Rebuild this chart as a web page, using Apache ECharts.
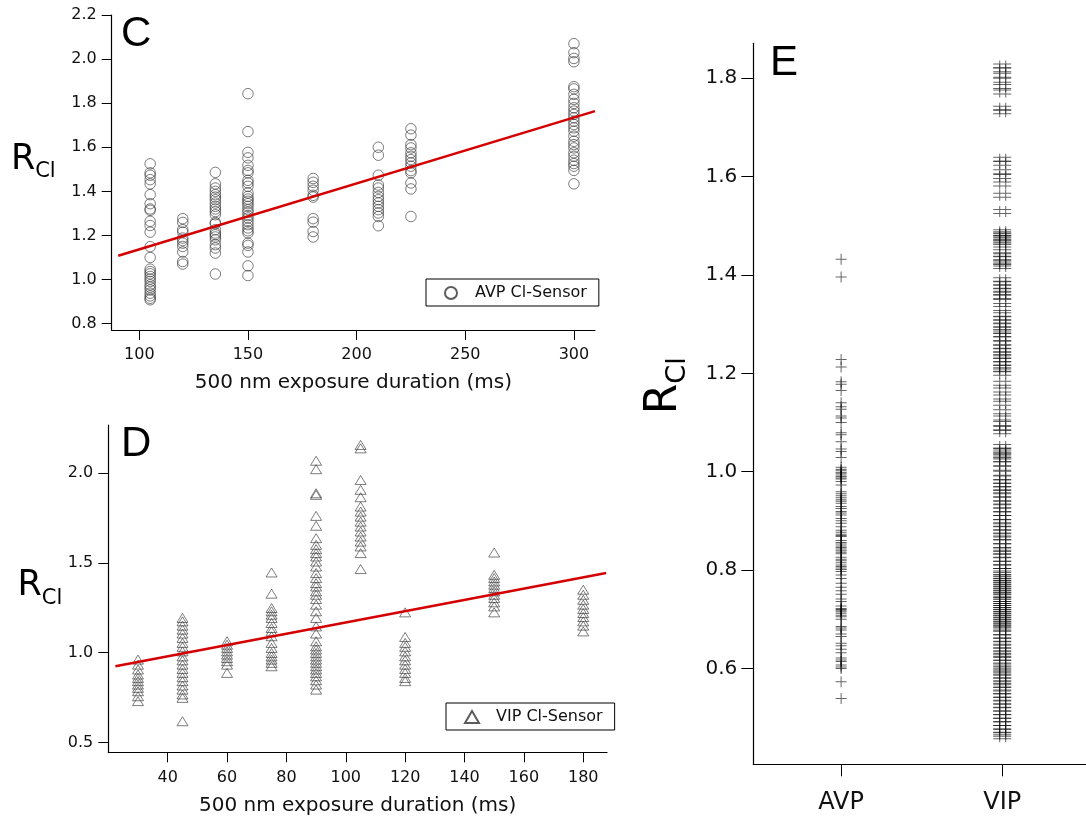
<!DOCTYPE html>
<html><head><meta charset="utf-8">
<script src="https://cdn.jsdelivr.net/npm/echarts@6/dist/echarts.min.js"></script>
<style>html,body{margin:0;padding:0;background:#fff}#c{width:1086px;height:825px}</style>
</head><body><div id="c"></div><script>
// ---------- Panel C data (AVP Cl-Sensor) ----------
const cDurations = [105, 120, 135, 150, 180, 210, 225, 300];
const cR105 = [1.525,1.484,1.473,1.453,1.434,1.385,1.344,1.32,1.314,1.264,1.245,1.215,1.149,1.10,1.047,1.036,1.026,1.014,1.002,0.991,0.976,0.965,0.953,0.938,0.926,0.915,0.908];
const cR120 = [1.276,1.259,1.226,1.215,1.188,1.177,1.165,1.15,1.125,1.082,1.07];
const cR135 = [1.486,1.434,1.415,1.40,1.385,1.374,1.362,1.347,1.332,1.32,1.308,1.294,1.259,1.253,1.226,1.211,1.203,1.193,1.18,1.158,1.143,1.12,1.025];
const cR150 = [1.843,1.671,1.577,1.552,1.518,1.495,1.484,1.45,1.438,1.423,1.393,1.377,1.365,1.355,1.344,1.332,1.317,1.305,1.29,1.279,1.264,1.249,1.234,1.221,1.211,1.165,1.155,1.125,1.062,1.018];
const cR180 = [1.458,1.441,1.423,1.405,1.382,1.374,1.276,1.26,1.218,1.193];
const cR210 = [1.60,1.564,1.473,1.429,1.415,1.395,1.377,1.362,1.347,1.332,1.317,1.302,1.286,1.244];
const cR225 = [1.684,1.655,1.612,1.597,1.575,1.559,1.544,1.529,1.514,1.494,1.484,1.438,1.411,1.286];
const cR300 = [2.07,2.029,2.003,1.988,1.875,1.865,1.84,1.817,1.799,1.779,1.764,1.749,1.734,1.718,1.703,1.688,1.673,1.65,1.627,1.612,1.597,1.575,1.559,1.541,1.526,1.514,1.495,1.434];
const cValues = [cR105, cR120, cR135, cR150, cR180, cR210, cR225, cR300];
const cFitRange = [90.3, 309.7];
const cFitIntercept = 0.838, cFitSlope = 0.00299;
const cXTicks = [100, 150, 200, 250, 300];
const cYTicks = [0.8, 1.0, 1.2, 1.4, 1.6, 1.8, 2.0, 2.2];

// ---------- Panel D data (VIP Cl-Sensor) ----------
const dDurations = [30, 45, 60, 75, 90, 105, 120, 150, 180];
const dR30 = [0.961,0.933,0.906,0.878,0.859,0.841,0.822,0.804,0.785,0.757,0.73];
const dR45 = [1.193,1.174,1.15,1.128,1.106,1.082,1.054,1.032,1.007,0.979,0.957,0.933,0.909,0.887,0.863,0.841,0.817,0.794,0.767,0.748,0.618];
const dR60 = [1.063,1.044,1.026,1.007,0.989,0.97,0.952,0.933,0.887];
const dR75 = [1.446,1.328,1.248,1.23,1.211,1.193,1.165,1.137,1.118,1.091,1.054,1.026,0.998,0.979,0.961,0.943,0.924];
const dR90 = [2.068,2.021,1.887,1.878,1.761,1.706,1.637,1.60,1.576,1.554,1.535,1.507,1.479,1.443,1.415,1.387,1.368,1.341,1.322,1.298,1.267,1.23,1.193,1.146,1.106,1.063,1.035,1.017,0.998,0.979,0.961,0.943,0.924,0.906,0.887,0.868,0.846,0.822,0.794];
const dR105 = [2.156,2.137,1.961,1.906,1.865,1.813,1.785,1.757,1.729,1.702,1.674,1.646,1.618,1.591,1.554,1.465];
const dR120 = [1.224,1.087,1.054,1.032,1.007,0.979,0.957,0.933,0.909,0.887,0.859,0.841];
const dR150 = [1.557,1.433,1.415,1.396,1.378,1.359,1.341,1.322,1.304,1.28,1.257,1.224];
const dR180 = [1.35,1.322,1.294,1.267,1.243,1.22,1.198,1.174,1.15,1.118];
const dValues = [dR30, dR45, dR60, dR75, dR90, dR105, dR120, dR150, dR180];
const dFitRange = [22.4, 187.7];
const dFitIntercept = 0.854, dFitSlope = 0.00314;
const dXTicks = [40, 60, 80, 100, 120, 140, 160, 180];
const dYTicks = [0.5, 1.0, 1.5, 2.0];

// ---------- Panel E data ----------
const eGroups = ['AVP', 'VIP'];
const eAVP = [1.432,1.396,1.228,1.213,1.183,1.178,1.165,1.14,1.132,1.127,1.113,1.109,1.100,1.079,1.075,1.061,1.046,1.041,1.029,1.009,1.005,1.003,0.999,0.997,0.993,0.990,0.987,0.985,0.980,0.973,0.959,0.955,0.951,0.947,0.943,0.940,0.936,0.929,0.925,0.919,0.916,0.912,0.905,0.900,0.895,0.888,0.881,0.877,0.873,0.870,0.868,0.860,0.856,0.853,0.849,0.846,0.843,0.839,0.836,0.833,0.826,0.822,0.819,0.815,0.810,0.807,0.804,0.801,0.797,0.790,0.783,0.773,0.765,0.758,0.751,0.741,0.736,0.727,0.722,0.720,0.718,0.715,0.712,0.708,0.705,0.700,0.685,0.682,0.678,0.670,0.665,0.651,0.646,0.639,0.632,0.621,0.617,0.614,0.607,0.603,0.600,0.573,0.539];
const eVIP = [1.825,1.817,1.806,1.796,1.783,1.772,1.739,1.732,1.635,1.627,1.61,1.60,1.585,1.562,1.529,1.488,1.484,1.481,1.476,1.471,1.466,1.461,1.447,1.441,1.434,1.427,1.422,1.417,1.39,1.383,1.376,1.369,1.363,1.356,1.346,1.332,1.319,1.312,1.305,1.298,1.29,1.285,1.278,1.271,1.261,1.254,1.247,1.24,1.234,1.227,1.22,1.213,1.207,1.20,1.18,1.166,1.152,1.139,1.122,1.109,1.098,1.088,1.081,1.051,1.044,1.04,1.034,1.03,1.024,1.016,1.007,0.997,0.987,0.98,0.973,0.966,0.959,0.953,0.944,0.937,0.93,0.922,0.915,0.907,0.898,0.892,0.885,0.878,0.871,0.865,0.858,0.849,0.842,0.836,0.829,0.822,0.814,0.807,0.799,0.794,0.787,0.783,0.779,0.775,0.771,0.767,0.763,0.759,0.755,0.751,0.747,0.740,0.736,0.732,0.728,0.724,0.720,0.716,0.712,0.708,0.704,0.700,0.696,0.692,0.688,0.684,0.680,0.672,0.665,0.658,0.651,0.645,0.638,0.632,0.626,0.620,0.613,0.607,0.601,0.595,0.590,0.584,0.577,0.571,0.565,0.558,0.552,0.545,0.538,0.531,0.524,0.517,0.510,0.502,0.495,0.488,0.480,0.473,0.466,0.461];
const eYTicks = [0.6, 0.8, 1.0, 1.2, 1.4, 1.6, 1.8];

// ---------- build ----------
const pairs = (xs, vals) => xs.flatMap((x, i) => vals[i].map(v => [x, v]));
const fitLine = (r, a, b) => r.map(x => [x, a + b * x]);
const FONT = 'Liberation Sans, Helvetica, Arial, sans-serif';
const LABEL_FONT = 'DejaVu Sans, Verdana, sans-serif';
const axisLine = {lineStyle: {color: '#000', width: 1.2}};
const fmt1 = v => v.toFixed(1);

function xAx(grid, min, max, ticks, margin, nameGap) {
  return {
    type: 'value', gridIndex: grid, min, max,
    axisLine, splitLine: {show: false},
    axisTick: {show: true, length: 10, customValues: ticks, lineStyle: {color: '#000', width: 1}},
    axisLabel: {customValues: ticks, margin, fontSize: 16, color: '#111', fontFamily: LABEL_FONT},
    name: '500 nm exposure duration (ms)', nameLocation: 'middle', nameGap,
    nameTextStyle: {fontSize: 20, color: '#111', fontFamily: LABEL_FONT}
  };
}
function yAx(grid, min, max, ticks, nameGap, pad) {
  return {
    type: 'value', gridIndex: grid, min, max,
    axisLine, splitLine: {show: false},
    axisTick: {show: true, length: 10, customValues: ticks, lineStyle: {color: '#000', width: 1}},
    axisLabel: {customValues: ticks, margin: 15, fontSize: 16, color: '#111', fontFamily: LABEL_FONT, formatter: fmt1},
    name: '{r|R}{s|Cl}', nameLocation: 'middle', nameRotate: 0, nameGap,
    nameTextStyle: {align: 'right', padding: pad, rich: {
      r: {fontSize: 35, fontFamily: LABEL_FONT, color: '#000', verticalAlign: 'top'},
      s: {fontSize: 21, fontFamily: LABEL_FONT, color: '#000', verticalAlign: 'top', padding: [19, 0, 0, 0]}
    }}
  };
}

const plusPath = 'path://M0,5h11v1H0z M5,0h1v11H5z';
const hashPath = 'path://M0,3h18v1H0z M0,7h18v1H0z M6,0h1v11H6z M12,0h1v11H12z';
const legendBase = {padding: [6, 12, 5, 18], itemWidth: 14, itemHeight: 12, itemGap: 20,
  borderColor: '#000', borderWidth: 1,
  textStyle: {fontSize: 16, color: '#111', fontFamily: LABEL_FONT, padding: [0, 2, 0, 12]}};

const option = {
  animation: false,
  backgroundColor: '#fff',
  grid: [
    {left: 111.7, top: 15, width: 483.3, height: 315},
    {left: 108.3, top: 425, width: 498.7, height: 327.3},
    {left: 753.3, top: 43.3, width: 340, height: 721}
  ],
  legend: [
    Object.assign({data: ['AVP Cl-Sensor'], left: 426, top: 279}, legendBase),
    Object.assign({data: ['VIP Cl-Sensor'], left: 446, top: 703}, legendBase)
  ],
  xAxis: [
    xAx(0, 87.3, 309.7, cXTicks, 17, 43),
    xAx(1, 20, 188, dXTicks, 18, 43),
    {type: 'value', gridIndex: 2, min: 0.455, max: 2.52,
      axisLine, splitLine: {show: false},
      axisTick: {show: true, length: 12, customValues: [1, 2], lineStyle: {color: '#000', width: 1}},
      axisLabel: {customValues: [1, 2], margin: 26, fontSize: 24, color: '#111', fontFamily: LABEL_FONT,
        formatter: v => eGroups[Math.round(v) - 1]}}
  ],
  yAxis: [
    yAx(0, 0.771, 2.2, cYTicks, 56, [0, 0, 20, 0]),
    yAx(1, 0.445, 2.267, dYTicks, 46, [0, 0, 0, 0]),
    {type: 'value', gridIndex: 2, min: 0.405, max: 1.871,
      axisLine, splitLine: {show: false},
      axisTick: {show: true, length: 12, customValues: eYTicks, lineStyle: {color: '#000', width: 1}},
      axisLabel: {customValues: eYTicks, margin: 16, fontSize: 20, color: '#111', fontFamily: LABEL_FONT, formatter: fmt1},
      name: '{r|R}{s|Cl}', nameLocation: 'middle', nameRotate: 90, nameGap: 62,
      nameTextStyle: {padding: [0, 0, 0, 36], rich: {
        r: {fontSize: 44, fontFamily: LABEL_FONT, color: '#000', verticalAlign: 'top'},
        s: {fontSize: 27, fontFamily: LABEL_FONT, color: '#000', verticalAlign: 'top', padding: [22, 0, 0, 0]}
      }}}
  ],
  series: [
    {name: 'AVP Cl-Sensor', type: 'scatter', xAxisIndex: 0, yAxisIndex: 0, data: pairs(cDurations, cValues),
      symbol: 'circle', symbolSize: 10.5,
      itemStyle: {color: 'rgba(0,0,0,0)', borderColor: '#333', borderWidth: 0.8}},
    {name: 'fitC', type: 'line', xAxisIndex: 0, yAxisIndex: 0, data: fitLine(cFitRange, cFitIntercept, cFitSlope),
      showSymbol: false, symbol: 'none', lineStyle: {color: '#d40000', width: 2.5}, z: 5},
    {name: 'VIP Cl-Sensor', type: 'scatter', xAxisIndex: 1, yAxisIndex: 1, data: pairs(dDurations, dValues),
      symbol: 'triangle', symbolSize: [11, 9],
      itemStyle: {color: 'rgba(0,0,0,0)', borderColor: '#333', borderWidth: 0.8}},
    {name: 'fitD', type: 'line', xAxisIndex: 1, yAxisIndex: 1, data: fitLine(dFitRange, dFitIntercept, dFitSlope),
      showSymbol: false, symbol: 'none', lineStyle: {color: '#d40000', width: 2.5}, z: 5},
    {name: 'AVP', type: 'scatter', xAxisIndex: 2, yAxisIndex: 2, data: eAVP.map(v => [1, v]),
      symbol: plusPath, symbolSize: [11, 11], itemStyle: {color: 'rgba(0,0,0,0.75)'}},
    {name: 'VIP', type: 'scatter', xAxisIndex: 2, yAxisIndex: 2, data: eVIP.map(v => [2, v]),
      symbol: hashPath, symbolSize: [18, 11], itemStyle: {color: 'rgba(0,0,0,0.75)'}}
  ],
  graphic: [
    {type: 'text', left: 121, top: 13, style: {text: 'C', fontSize: 42, fontFamily: FONT, fill: '#000'}},
    {type: 'text', left: 121, top: 423, style: {text: 'D', fontSize: 42, fontFamily: FONT, fill: '#000'}},
    {type: 'text', left: 770, top: 42, style: {text: 'E', fontSize: 42, fontFamily: FONT, fill: '#000'}}
  ]
};
const chart = echarts.init(document.getElementById('c'), null, {renderer: 'canvas'});
chart.setOption(option);
</script></body></html>
